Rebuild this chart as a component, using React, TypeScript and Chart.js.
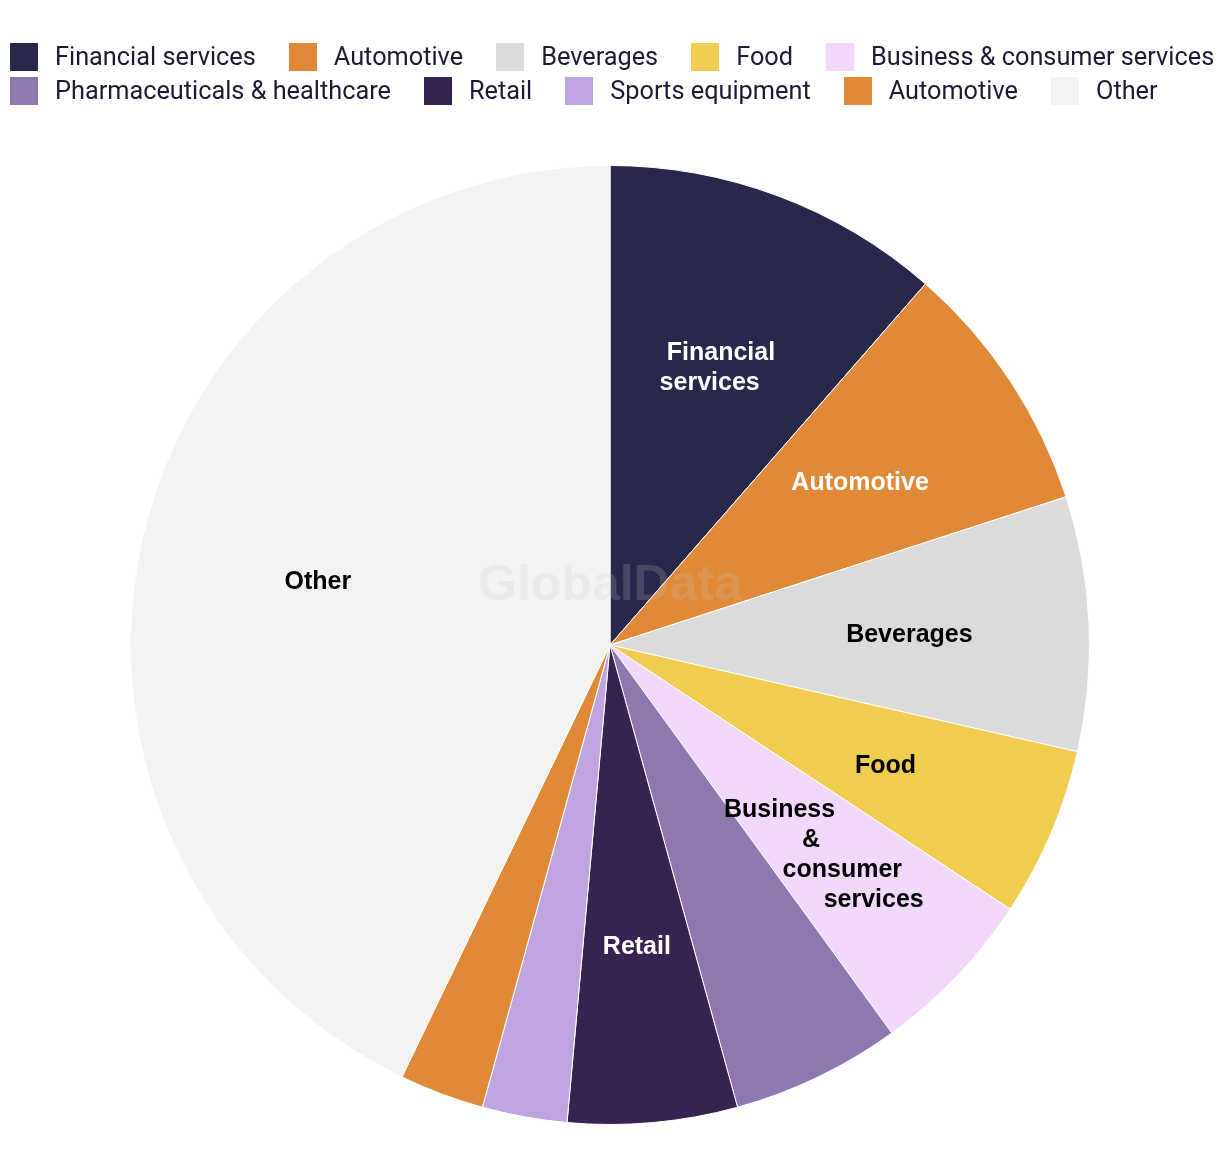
import React, { useEffect, useRef } from "react";
import { Chart, registerables } from "chart.js";

Chart.register(...registerables);

const categories = [
  "Financial services",
  "Automotive",
  "Beverages",
  "Food",
  "Business & consumer services",
  "Pharmaceuticals & healthcare",
  "Retail",
  "Sports equipment",
  "Automotive",
  "Other",
];
const values = [4, 3, 3, 2, 2, 2, 2, 1, 1, 15];
const colors = [
  "#27284B",
  "#E08A38",
  "#DBDBDB",
  "#F0CD4E",
  "#F2D8FB",
  "#8F78B0",
  "#352352",
  "#BFA5E0",
  "#E08A38",
  "#F3F3F1",
];
// null = no label drawn on that slice
const labelColors: (string | null)[] = [
  "#FFFFFF",
  "#FFFFFF",
  "#000000",
  "#000000",
  "#000000",
  null,
  "#FFFFFF",
  null,
  null,
  "#000000",
];
const watermark = "GlobalData";
const legendPerRow = 5;

function wrapText(ctx: CanvasRenderingContext2D, text: string, maxWidth: number): string[] {
  const words = text.split(" ");
  const lines: string[] = [];
  let cur = "";
  for (const w of words) {
    const test = cur ? cur + " " + w : w;
    if (cur && ctx.measureText(test).width > maxWidth) {
      lines.push(cur);
      cur = w;
    } else {
      cur = test;
    }
  }
  if (cur) lines.push(cur);
  return lines;
}

const sliceLabelPlugin = {
  id: "sliceLabels",
  afterDatasetsDraw(chart: any) {
    const ctx: CanvasRenderingContext2D = chart.ctx;
    const meta = chart.getDatasetMeta(0);
    if (!meta.data.length) return;
    const c = meta.data[0].getProps(["x", "y", "outerRadius"], true);

    ctx.save();
    // watermark
    ctx.font = "bold 50px 'Liberation Sans', Arial, sans-serif";
    ctx.fillStyle = "rgba(200,200,200,0.2)";
    ctx.textAlign = "center";
    ctx.textBaseline = "alphabetic";
    ctx.fillText(watermark, c.x, c.y - 45);

    // slice labels
    ctx.font = "bold 25px 'Liberation Sans', Arial, sans-serif";
    ctx.textBaseline = "middle";
    ctx.textAlign = "center";
    const lineH = 30;
    meta.data.forEach((arc: any, i: number) => {
      const col = labelColors[i];
      if (!col) return;
      const p = arc.getProps(["startAngle", "endAngle", "outerRadius", "x", "y"], true);
      const mid = (p.startAngle + p.endAngle) / 2;
      const r = p.outerRadius * 0.625;
      const dx = Math.cos(mid);
      const dy = Math.sin(mid);
      const lx = p.x + dx * r;
      const ly = p.y + dy * r + 3.5;
      const lines = wrapText(ctx, categories[i], 125);
      ctx.fillStyle = col;
      lines.forEach((line, k) => {
        const off = (k - (lines.length - 1) / 2) * lineH;
        const xoff = Math.abs(dy) > 1e-3 ? (off * dx) / dy : 0;
        ctx.fillText(line, lx + xoff, ly + off);
      });
    });
    ctx.restore();
  },
};

export default function App() {
  const canvasRef = useRef<HTMLCanvasElement | null>(null);

  useEffect(() => {
    if (!canvasRef.current) return;
    const chart = new Chart(canvasRef.current, {
      type: "pie",
      data: {
        labels: categories,
        datasets: [
          {
            data: values,
            backgroundColor: colors,
            borderColor: "#FFFFFF",
            borderWidth: 1,
          },
        ],
      },
      options: {
        responsive: false,
        maintainAspectRatio: false,
        animation: false,
        layout: { padding: { top: 165, bottom: 43, left: 130, right: 130 } },
        plugins: {
          legend: { display: false },
          tooltip: { enabled: false },
        },
      },
      plugins: [sliceLabelPlugin],
    });
    return () => chart.destroy();
  }, []);

  const rows: number[][] = [];
  for (let i = 0; i < categories.length; i += legendPerRow) {
    rows.push(categories.slice(i, i + legendPerRow).map((_, k) => i + k));
  }

  return (
    <div
      style={{
        position: "absolute",
        left: 0,
        top: 0,
        width: 1220,
        height: 1168,
        overflow: "hidden",
        background: "#FFFFFF",
      }}
    >
      <canvas
        ref={canvasRef}
        width={1220}
        height={1168}
        style={{ display: "block", position: "absolute", left: 0, top: 0 }}
      />
      <div
        style={{
          position: "absolute",
          left: 10,
          top: 43,
          fontFamily: "Roboto, 'Noto Sans', sans-serif",
          fontSize: 25.3,
          color: "#1C1B33",
        }}
      >
        {rows.map((row, ri) => (
          <div
            key={ri}
            style={{
              display: "flex",
              columnGap: 33,
              height: 28,
              marginBottom: 6,
              alignItems: "center",
              whiteSpace: "nowrap",
            }}
          >
            {row.map((i) => (
              <div key={i} style={{ display: "flex", alignItems: "center" }}>
                <span
                  style={{
                    display: "inline-block",
                    width: 28,
                    height: 28,
                    background: colors[i],
                    marginRight: 17,
                  }}
                />
                <span style={{ lineHeight: "28px" }}>{categories[i]}</span>
              </div>
            ))}
          </div>
        ))}
      </div>
    </div>
  );
}
